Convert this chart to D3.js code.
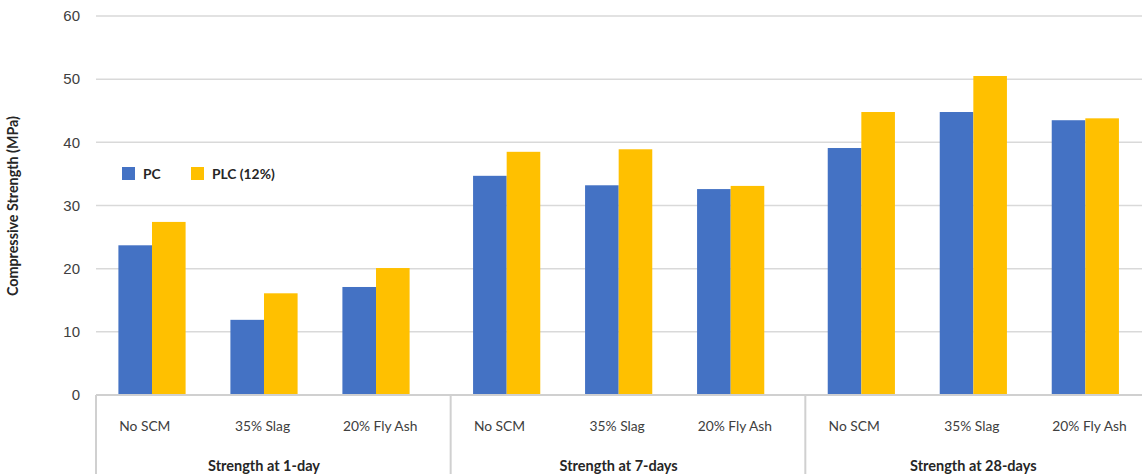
<!DOCTYPE html>
<html>
<head>
<meta charset="utf-8">
<script src="https://cdn.jsdelivr.net/npm/d3@7"></script>
<style>
  html, body { margin: 0; padding: 0; background: #fff; }
  svg { display: block; }
</style>
</head>
<body>
<svg id="chart" width="1142" height="474"></svg>
<script>
// Compressive strength by age, mix and cement type
const ages = ["Strength at 1-day", "Strength at 7-days", "Strength at 28-days"];
const mixes = ["No SCM", "35% Slag", "20% Fly Ash"];
const seriesNames = ["PC", "PLC (12%)"];
const seriesColors = ["#4472C4", "#FFC000"];
const pcValues  = [23.7, 11.9, 17.1, 34.7, 33.2, 32.6, 39.1, 44.8, 43.5];
const plcValues = [27.4, 16.1, 20.1, 38.5, 38.9, 33.1, 44.8, 50.5, 43.8];
const yTicks = [0, 10, 20, 30, 40, 50, 60];
const yTitle = "Compressive Strength (MPa)";

const rows = [];
ages.forEach((age, gi) => {
  mixes.forEach((mix, mi) => {
    const i = gi * mixes.length + mi;
    rows.push({ age, mix, values: [pcValues[i], plcValues[i]] });
  });
});

const svg = d3.select("#chart");
const plotLeft = 96, plotRight = 1160, plotTop = 16, plotBottom = 395;

const y = d3.scaleLinear().domain([0, 60]).range([plotBottom, plotTop]);
const xGroup = d3.scaleBand().domain(ages).range([plotLeft, plotRight]).padding(0);
const xMix = d3.scaleBand().domain(mixes).range([0, 336]).paddingInner(0.4).paddingOuter(0.2);
const xSeries = d3.scaleBand().domain(seriesNames).range([0, xMix.bandwidth()]);
const xMixLabel = d3.scaleBand().domain(mixes).range([-10, 343]);

// gridlines
svg.append("g")
  .selectAll("line")
  .data(yTicks.filter(t => t > 0))
  .join("line")
  .attr("x1", plotLeft).attr("x2", 1142)
  .attr("y1", d => y(d)).attr("y2", d => y(d))
  .attr("stroke", "#d9d9d9").attr("stroke-width", 1.5);

// y axis tick labels
const yAxis = d3.axisLeft(y).tickValues(yTicks).tickSize(0).tickPadding(0).tickFormat(d3.format("d"));
const yG = svg.append("g").attr("transform", "translate(80,0)").call(yAxis);
yG.select(".domain").remove();
yG.selectAll("text")
  .attr("font-family", "'Liberation Sans', Arial, sans-serif")
  .attr("font-size", 15).attr("fill", "#404040");

// y axis title
svg.append("text")
  .attr("transform", "translate(18,206) rotate(-90)")
  .attr("text-anchor", "middle")
  .attr("font-family", "Lato, 'Open Sans', sans-serif")
  .attr("font-weight", "bold")
  .attr("font-size", 14.3)
  .attr("fill", "#262626")
  .text(yTitle);

// bars
const groups = svg.append("g").selectAll("g")
  .data(rows)
  .join("g")
  .attr("transform", d => `translate(${xGroup(d.age) + xMix(d.mix)},0)`);
groups.selectAll("rect")
  .data(d => d.values.map((v, k) => ({ name: seriesNames[k], v, k })))
  .join("rect")
  .attr("x", d => xSeries(d.name))
  .attr("width", xSeries.bandwidth())
  .attr("y", d => y(d.v))
  .attr("height", d => y(0) - y(d.v))
  .attr("fill", d => seriesColors[d.k]);

// category axis frame
const axisG = svg.append("g").attr("stroke", "#d0d0d0").attr("stroke-width", 2);
axisG.append("line")
  .attr("x1", plotLeft).attr("x2", 1142)
  .attr("y1", plotBottom).attr("y2", plotBottom);
axisG.selectAll("line.sep")
  .data(ages)
  .join("line")
  .attr("class", "sep")
  .attr("x1", d => xGroup(d)).attr("x2", d => xGroup(d))
  .attr("y1", plotBottom).attr("y2", 474);

// mix labels
svg.append("g").selectAll("text")
  .data(rows)
  .join("text")
  .attr("x", d => xGroup(d.age) + xMixLabel(d.mix) + xMixLabel.bandwidth() / 2)
  .attr("y", 431)
  .attr("text-anchor", "middle")
  .attr("font-family", "Lato, 'Open Sans', sans-serif")
  .attr("font-size", 13.8)
  .attr("fill", "#404040")
  .text(d => d.mix);

// age labels
svg.append("g").selectAll("text")
  .data(ages)
  .join("text")
  .attr("x", d => xGroup(d) + 168)
  .attr("y", 471)
  .attr("text-anchor", "middle")
  .attr("font-family", "Lato, 'Open Sans', sans-serif")
  .attr("font-weight", "bold")
  .attr("font-size", 14.5)
  .attr("fill", "#262626")
  .text(d => d);

// legend
const legendX = [122, 191];
const legend = svg.append("g").selectAll("g")
  .data(seriesNames)
  .join("g")
  .attr("transform", (d, i) => `translate(${legendX[i]},167)`);
legend.append("rect")
  .attr("width", 13).attr("height", 13)
  .attr("fill", (d, i) => seriesColors[i]);
legend.append("text")
  .attr("x", 21).attr("y", 11.5)
  .attr("font-family", "Lato, 'Open Sans', sans-serif")
  .attr("font-weight", "bold")
  .attr("font-size", 13.8)
  .attr("fill", "#262626")
  .text(d => d);
</script>
</body>
</html>
